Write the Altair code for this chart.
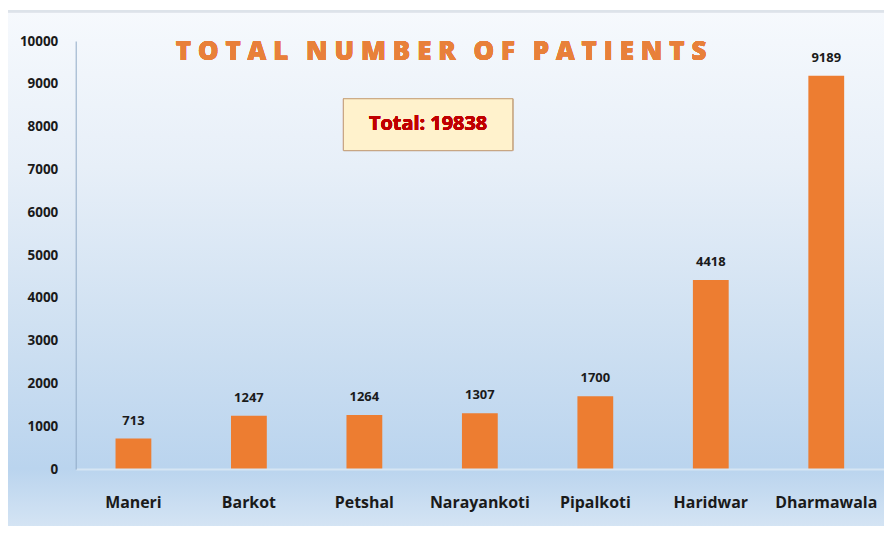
import altair as alt
import pandas as pd

centres = ["Maneri", "Barkot", "Petshal", "Narayankoti", "Pipalkoti", "Haridwar", "Dharmawala"]
patients = [713, 1247, 1264, 1307, 1700, 4418, 9189]
y_ticks = [0, 1000, 2000, 3000, 4000, 5000, 6000, 7000, 8000, 9000, 10000]
title_text = "TOTAL NUMBER OF PATIENTS"
total_text = "Total: 19838"

df = pd.DataFrame({"centre": centres, "patients": patients})

# spaced-out title (letter spacing imitation)
spaced_title = "\u00a0\u00a0\u2009".join("\u2009\u200a".join(list(w)) for w in title_text.split(" "))

W, H = 812, 430
FONT = "Open Sans"

x_enc = alt.X("centre:N", sort=centres, title=None,
              scale=alt.Scale(paddingInner=0.69, paddingOuter=0.345),
              axis=alt.Axis(labelAngle=0, labelFontSize=16, labelFontWeight="bold",
                            labelColor="#1a1a1a", labelFont=FONT, labelPadding=26,
                            ticks=False, domain=True, domainColor="#d6e5f3",
                            domainWidth=2, zindex=1))
y_enc = alt.Y("patients:Q", title=None,
              scale=alt.Scale(domain=[0, 10000], nice=False),
              axis=alt.Axis(values=y_ticks, format="d", labelFontSize=13.5,
                            labelFontWeight="bold", labelColor="#1a1a1a", labelFont=FONT,
                            labelPadding=18, ticks=False, grid=False,
                            domainColor="#8fa9c6", domainWidth=1, zindex=1))

base = alt.Chart(df)

background = base.mark_rect(
    fill=alt.Gradient(
        gradient="linear", x1=0, x2=0, y1=0, y2=1,
        stops=[
            alt.GradientStop(offset=0.0, color="#f6f9fd"),
            alt.GradientStop(offset=0.3, color="#e7eff8"),
            alt.GradientStop(offset=0.6, color="#d0e1f2"),
            alt.GradientStop(offset=0.88, color="#bad4ee"),
            alt.GradientStop(offset=1.0, color="#d6e5f4"),
        ],
    )
).encode(x=alt.value(-69), x2=alt.value(814), y=alt.value(-30), y2=alt.value(492))

topline = base.mark_rule(color="#dde3ea", strokeWidth=2).encode(
    x=alt.value(-69), x2=alt.value(814), y=alt.value(-30))

bars = base.mark_bar(color="#ED7D31").encode(x=x_enc, y=y_enc)

labels = base.mark_text(dy=-11, fontSize=13, fontWeight="bold", font=FONT,
                        color="#1a1a1a", baseline="bottom").encode(
    x=alt.X("centre:N", sort=centres), y="patients:Q", text="patients:Q")

title = base.mark_text(fontSize=26, fontWeight=800, font="Open Sans", color="#E8803A",
                       align="center", baseline="middle").encode(
    x=alt.value(367), y=alt.value(11), text=alt.value(spaced_title))

box = base.mark_rect(fill="#fff2cc", stroke="#c8a582", strokeWidth=1).encode(
    x=alt.value(269), x2=alt.value(439), y=alt.value(58), y2=alt.value(110))

box_text = base.mark_text(fontSize=20, fontWeight="bold", font=FONT, color="#c00000",
                          align="center", baseline="middle").encode(
    x=alt.value(354), y=alt.value(83), text=alt.value(total_text))

chart = alt.layer(background, topline, bars, labels, title, box, box_text).properties(
    width=W, height=H,
    autosize=alt.AutoSizeParams(type="none"),
    padding={"left": 68, "top": 32, "right": 0, "bottom": 56},
).configure_view(stroke=None).configure(background="white")

chart.save("out.html", embed_options={"renderer": "svg", "actions": False})
